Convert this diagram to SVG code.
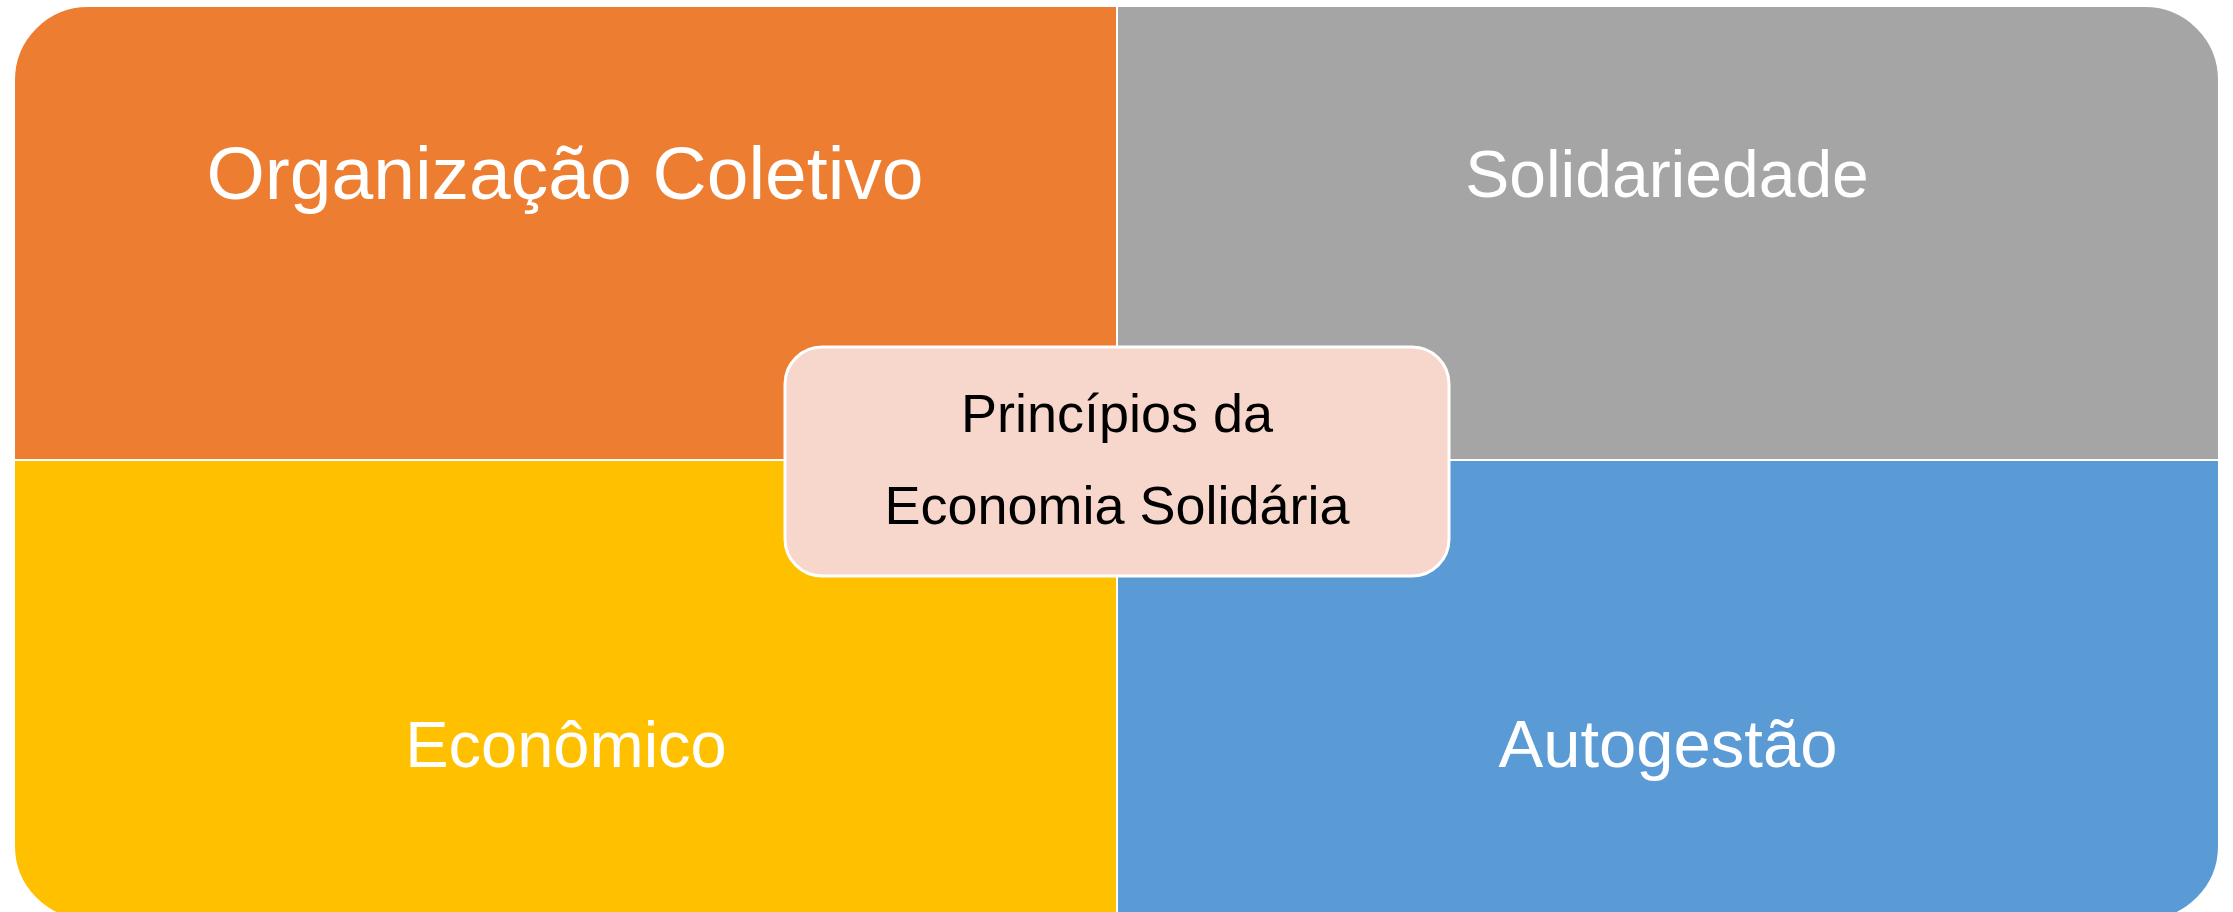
<svg xmlns="http://www.w3.org/2000/svg" width="2233" height="912" viewBox="0 0 2233 912">
<style>
.q{stroke:#FFFFFF;stroke-width:2}
.lbl{font-family:"Liberation Sans",Arial,sans-serif;fill:#FFFFFF;text-anchor:middle}
.ctr{font-family:"Liberation Sans",Arial,sans-serif;fill:#000000;text-anchor:middle;font-size:54px}
</style>
<rect width="2233" height="912" fill="#FFFFFF"/>
<g id="organizacao">
<path class="q" fill="#ED7D31" d="M14,460 V80 A74,74 0 0 1 88,6 H1117 V460 Z"/>
<text class="lbl" x="565" y="199" font-size="75">Organização Coletivo</text>
</g>
<g id="solidariedade">
<path class="q" fill="#A5A5A5" d="M1117,6 H2145 A74,74 0 0 1 2219,80 V460 H1117 Z"/>
<text class="lbl" x="1667" y="197" font-size="66">Solidariedade</text>
</g>
<g id="economico">
<path class="q" fill="#FFC000" d="M14,460 H1117 V920 H88 A74,74 0 0 1 14,846 Z"/>
<text class="lbl" x="566" y="767" font-size="65">Econômico</text>
</g>
<g id="autogestao">
<path class="q" fill="#5B9BD5" d="M1117,460 H2219 V846 A74,74 0 0 1 2145,920 H1117 Z"/>
<text class="lbl" x="1668" y="767" font-size="67">Autogestão</text>
</g>
<g id="connectors"></g>
<g id="centro">
<rect x="785" y="347" width="664" height="229" rx="37" ry="37" fill="#F7D6CB" stroke="#FFFFFF" stroke-width="3"/>
<text class="ctr" x="1117" y="432">Princípios da</text>
<text class="ctr" x="1117" y="524">Economia Solidária</text>
</g>
</svg>
